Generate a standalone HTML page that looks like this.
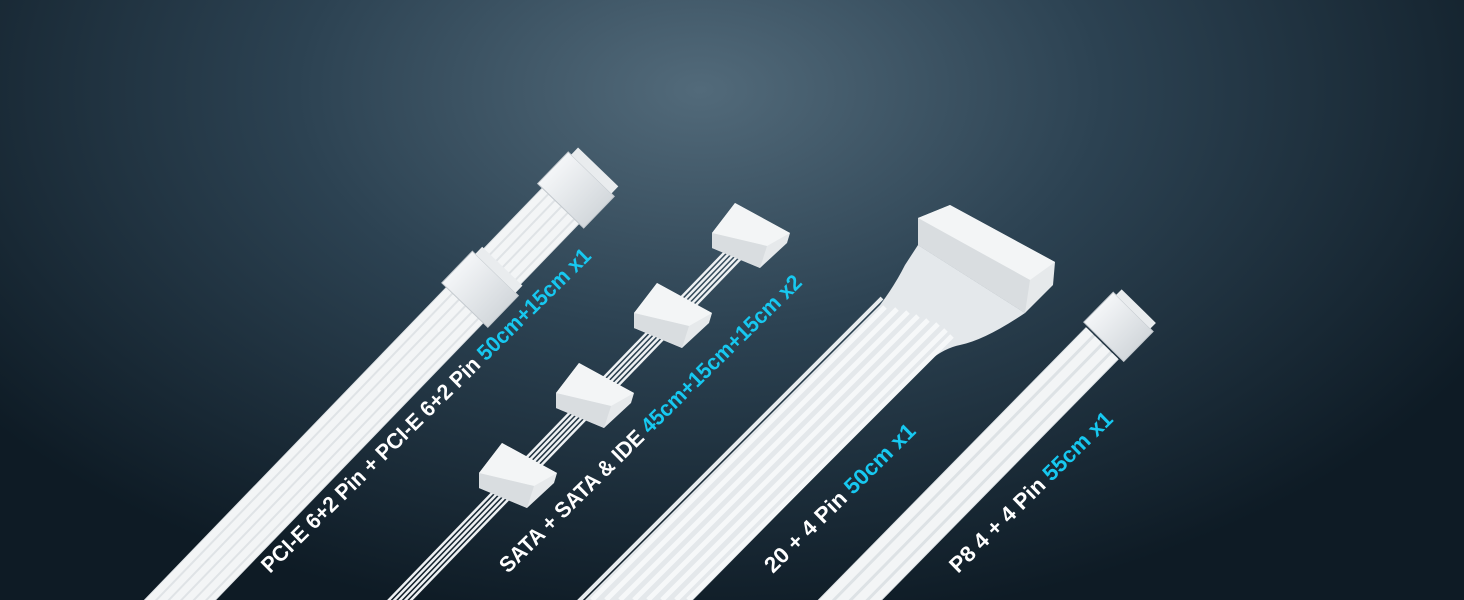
<!DOCTYPE html>
<html><head><meta charset="utf-8"><style>
html,body{margin:0;padding:0;width:1464px;height:600px;overflow:hidden;background:#142330}
svg{display:block}
text{font-family:"Liberation Sans",sans-serif;font-weight:bold;font-size:22px;fill:#fff}
.c{fill:#17c8f0}
</style></head><body>
<svg width="1464" height="600" viewBox="0 0 1464 600">
<defs>
<radialGradient id="bg" cx="700" cy="90" r="900" gradientUnits="userSpaceOnUse" gradientTransform="translate(700 90) scale(1 0.6) translate(-700 -90)">
<stop offset="0" stop-color="#526a7a"/>
<stop offset="0.45" stop-color="#2c4252"/>
<stop offset="1" stop-color="#0e1b25"/>
</radialGradient>
<linearGradient id="w" x1="0" y1="0" x2="0" y2="1">
<stop offset="0" stop-color="#f4f6f8"/><stop offset="1" stop-color="#d3d8dc"/>
</linearGradient>
<g id="sata">
<polygon points="735,203 790,233 787,243 760,268 712,248 712,233" fill="#e6e9eb"/>
<polygon points="735,203 790,233 767,246 712,233" fill="#f3f5f6"/>
<polygon points="712,233 767,246 760,268 712,248" fill="#d9dde0"/>
</g>
</defs>
<rect width="1464" height="600" fill="url(#bg)"/>

<!-- Cable 1 PCI-E -->
<g transform="translate(180 600) rotate(-46)">
<rect x="-40" y="-26" width="600" height="52" fill="#dfe3e6"/>
<g fill="#f3f5f6">
<rect x="-40" y="-25" width="600" height="7"/><rect x="-40" y="-16" width="600" height="7"/>
<rect x="-40" y="-7" width="600" height="7"/><rect x="-40" y="2" width="600" height="7"/>
<rect x="-40" y="11" width="600" height="7"/><rect x="-40" y="20" width="600" height="5"/>
</g>
<rect x="410" y="-32" width="44" height="64" fill="url(#w)" stroke="#c3c9ce"/>
<rect x="454" y="-28" width="10" height="56" fill="#e9ecee"/>
<rect x="548" y="-32" width="44" height="64" fill="url(#w)" stroke="#c3c9ce"/>
<rect x="592" y="-28" width="10" height="56" fill="#e9ecee"/>
</g>

<!-- Cable 2 SATA wires -->
<g transform="translate(400 600) rotate(-46)">
<g stroke="#eef1f3" stroke-width="2.5">
<line x1="-40" y1="-8" x2="490" y2="-8"/><line x1="-40" y1="-4" x2="490" y2="-4"/>
<line x1="-40" y1="0" x2="490" y2="0"/><line x1="-40" y1="4" x2="490" y2="4"/>
<line x1="-40" y1="8" x2="490" y2="8"/>
</g>
</g>
<use href="#sata"/>
<use href="#sata" transform="translate(-78 80)"/>
<use href="#sata" transform="translate(-156 160)"/>
<use href="#sata" transform="translate(-233 240)"/>

<!-- Cable 3 24-pin -->
<line x1="560" y1="620" x2="882" y2="298" stroke="#e8ecee" stroke-width="4"/>
<path d="M585 600 L880 305 Q895 285 905 265 L918 245 L1025 313 Q985 340 960 345 Q945 348 930 360 L693 600 Z" fill="#e4e8eb"/>
<g stroke="#f6f8f9" stroke-width="5">
<line x1="592" y1="600" x2="885" y2="307"/><line x1="606" y1="600" x2="897" y2="309"/>
<line x1="620" y1="600" x2="908" y2="312"/><line x1="634" y1="600" x2="918" y2="316"/>
<line x1="648" y1="600" x2="928" y2="320"/><line x1="662" y1="600" x2="938" y2="324"/>
<line x1="676" y1="600" x2="946" y2="330"/><line x1="688" y1="600" x2="952" y2="336"/>
</g>
<polygon points="918,218 950,205 1055,262 1053,285 1025,313 918,245" fill="#e6e9eb"/>
<polygon points="918,218 950,205 1055,262 1030,280" fill="#f3f5f6"/>
<polygon points="918,218 1030,280 1025,313 918,245" fill="#d9dde0"/>

<!-- Cable 4 P8 -->
<g transform="translate(850 600) rotate(-45.5)">
<rect x="-40" y="-23" width="400" height="46" fill="#dde2e5"/>
<g fill="#f3f5f6">
<rect x="-40" y="-22" width="400" height="9"/><rect x="-40" y="-10" width="400" height="9"/>
<rect x="-40" y="2" width="400" height="9"/><rect x="-40" y="14" width="400" height="8"/>
</g>
<rect x="362" y="-28" width="42" height="56" fill="url(#w)" stroke="#c3c9ce"/>
<rect x="404" y="-24" width="8" height="48" fill="#e9ecee"/>
</g>

<!-- Labels -->
<text x="270" y="574" transform="rotate(-44.5 270 574)" textLength="452" lengthAdjust="spacingAndGlyphs">PCI-E 6+2 Pin + PCI-E 6+2 Pin <tspan class="c">50cm+15cm x1</tspan></text>
<text x="508" y="574" transform="rotate(-44.5 508 574)" textLength="414" lengthAdjust="spacingAndGlyphs">SATA + SATA &amp; IDE <tspan class="c">45cm+15cm+15cm x2</tspan></text>
<text x="773" y="574" transform="rotate(-44.5 773 574)" textLength="202" lengthAdjust="spacingAndGlyphs">20 + 4 Pin <tspan class="c">50cm x1</tspan></text>
<text x="958" y="574" transform="rotate(-44.5 958 574)" textLength="219" lengthAdjust="spacingAndGlyphs">P8 4 + 4 Pin <tspan class="c">55cm x1</tspan></text>
</svg>
</body></html>
